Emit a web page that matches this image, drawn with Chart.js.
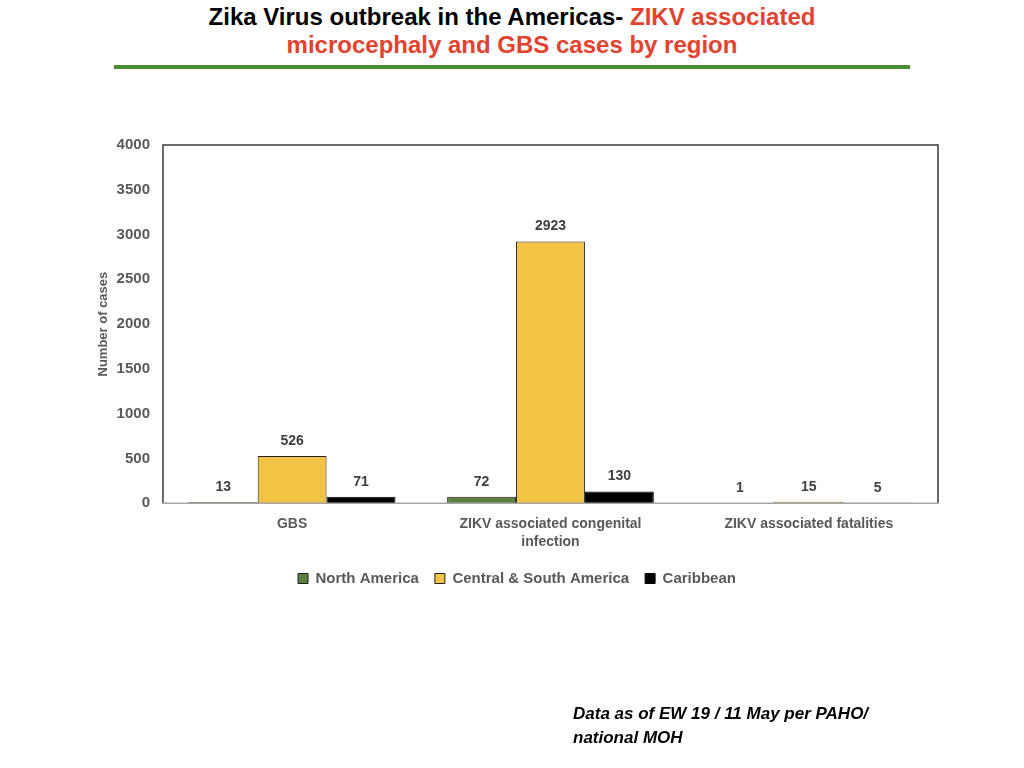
<!DOCTYPE html>
<html>
<head>
<meta charset="utf-8">
<script src="https://cdn.jsdelivr.net/npm/chart.js"></script>
<style>
  html, body { margin: 0; padding: 0; background: #fff; }
  body { width: 1024px; height: 768px; position: relative; overflow: hidden; font-family: "Liberation Sans", Arial, sans-serif; }
  #title {
    position: absolute; left: 0; top: 3px; width: 1024px; text-align: center;
    font-family: "Liberation Sans Narrow", "Liberation Sans", Arial, sans-serif;
    font-weight: bold; font-size: 24px; line-height: 28px; color: #000;
  }
  #title .red { color: #e2432f; }
  #rule { position: absolute; left: 114px; top: 65px; width: 796px; height: 4px; background: #4a8c33; }
  #note {
    position: absolute; left: 573px; top: 702px; font-weight: bold; font-style: italic;
    font-size: 17px; line-height: 24px; color: #000;
  }
  #wrap { position: absolute; left: 0; top: 0; width: 1024px; height: 768px; }
</style>
</head>
<body>
<div id="title">Zika Virus outbreak in the Americas- <span class="red">ZIKV associated</span><br><span class="red">microcephaly and GBS cases by region</span></div>
<div id="rule"></div>
<div id="wrap"><canvas id="c"></canvas></div>
<div id="note">Data as of EW 19 / 11 May per PAHO/<br>national MOH</div>
<script>
// categories and series
const categories = [
  "GBS",
  ["ZIKV associated congenital", "infection"],
  "ZIKV associated fatalities"
];
const northAmerica = [13, 72, 1];
const centralSouthAmerica = [526, 2923, 15];
const caribbean = [71, 130, 5];
const yTicks = [0, 500, 1000, 1500, 2000, 2500, 3000, 3500, 4000];

const labelPlugin = {
  id: "barLabels",
  afterDatasetsDraw(chart) {
    const ctx = chart.ctx;
    ctx.save();
    ctx.font = "bold 14px 'Liberation Sans', Arial, sans-serif";
    ctx.fillStyle = "#404040";
    ctx.textAlign = "center";
    ctx.textBaseline = "bottom";
    chart.data.datasets.forEach((ds, i) => {
      chart.getDatasetMeta(i).data.forEach((bar, j) => {
        ctx.fillText(ds.data[j], bar.x, bar.y - 8);
      });
    });
    ctx.restore();
  }
};

const framePlugin = {
  id: "frame",
  afterDatasetsDraw(chart) {
    const a = chart.chartArea, ctx = chart.ctx;
    ctx.save();
    ctx.lineWidth = 1.5;
    ctx.strokeStyle = "#3a3a3a";
    ctx.beginPath();
    ctx.moveTo(a.left, a.bottom);
    ctx.lineTo(a.left, a.top);
    ctx.lineTo(a.right, a.top);
    ctx.lineTo(a.right, a.bottom);
    ctx.stroke();
    ctx.strokeStyle = "#a6a6a6";
    ctx.beginPath();
    ctx.moveTo(a.left, a.bottom);
    ctx.lineTo(a.right, a.bottom);
    ctx.stroke();
    ctx.restore();
  }
};

new Chart(document.getElementById("c"), {
  type: "bar",
  data: {
    labels: categories,
    datasets: [
      { label: "North America", data: northAmerica, backgroundColor: "#5b8140", borderColor: "#222", borderWidth: 1 },
      { label: "Central & South America", data: centralSouthAmerica, backgroundColor: "#f2c344", borderColor: "#222", borderWidth: 1 },
      { label: "Caribbean", data: caribbean, backgroundColor: "#000", borderColor: "#000", borderWidth: 1 }
    ]
  },
  options: {
    responsive: true,
    maintainAspectRatio: false,
    animation: false,
    layout: { padding: { left: 96, right: 86, top: 145, bottom: 172 } },
    datasets: { bar: { categoryPercentage: 0.8, barPercentage: 1.0 } },
    scales: {
      x: {
        grid: { display: false },
        border: { display: false },
        ticks: { color: "#595959", font: { size: 14, weight: "bold", lineHeight: 1.35 }, maxRotation: 0, padding: 3 }
      },
      y: {
        min: 0, max: 4000,
        afterBuildTicks(scale) { scale.ticks = yTicks.map(v => ({ value: v })); },
        grid: { display: false },
        border: { display: false },
        ticks: { color: "#595959", font: { size: 15, weight: "bold" }, padding: 5, callback: v => String(v) },
        title: { display: true, text: "Number of cases", color: "#595959", font: { size: 13, weight: "bold" }, padding: { top: 0, bottom: 0 } }
      }
    },
    plugins: {
      legend: {
        position: "bottom",
        labels: { color: "#595959", font: { size: 15, weight: "bold" }, boxWidth: 10, boxHeight: 10, padding: 16 }
      },
      tooltip: { enabled: false }
    }
  },
  plugins: [labelPlugin, framePlugin]
});
</script>
</body>
</html>
